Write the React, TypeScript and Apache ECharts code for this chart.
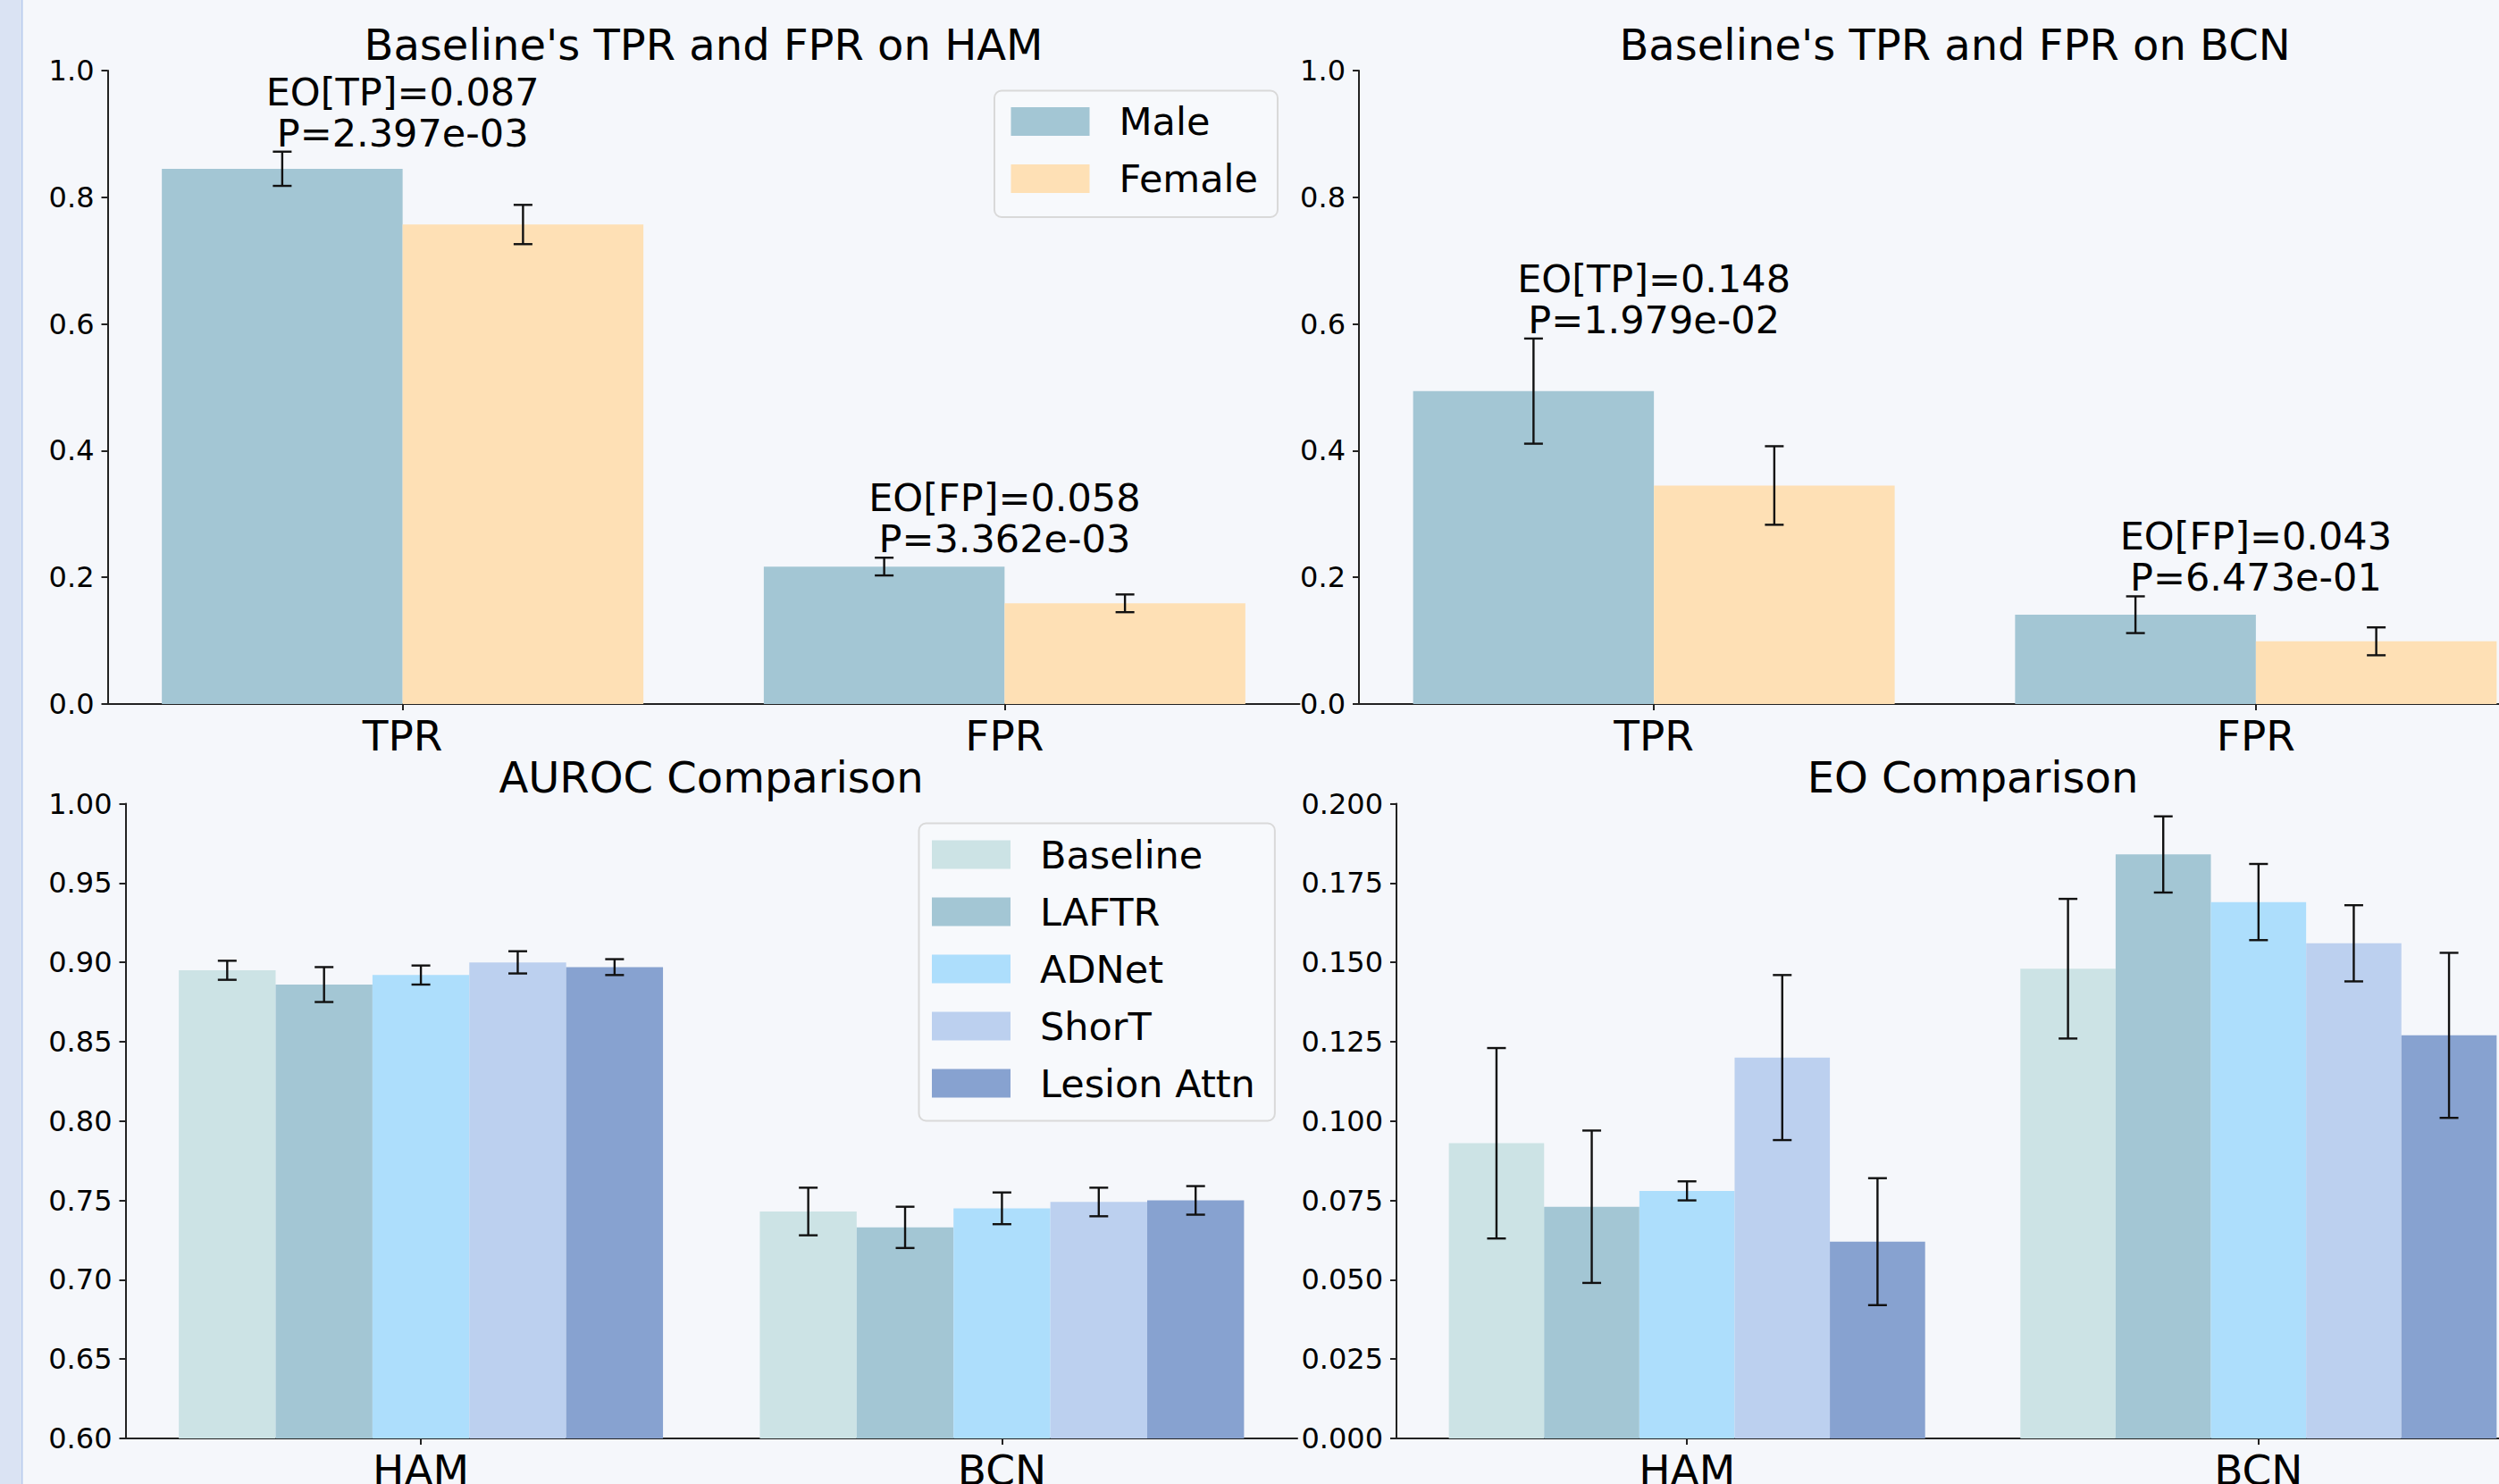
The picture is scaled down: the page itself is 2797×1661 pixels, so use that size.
import React, { useEffect, useRef } from 'react';
import * as echarts from 'echarts';

const W = 2797;
const H = 1661;
const FONT = 'DejaVu Sans';

// ---- Top row: baseline TPR / FPR by sex ----
const rateCategories = ['TPR', 'FPR'];
const genderGroups = ['Male', 'Female'];
const hamMale = [0.845, 0.217];
const hamMaleErr = [0.027, 0.014];
const hamFemale = [0.757, 0.159];
const hamFemaleErr = [0.031, 0.014];
const hamEOLabels = ['EO[TP]=0.087', 'EO[FP]=0.058'];
const hamPLabels = ['P=2.397e-03', 'P=3.362e-03'];
const bcnMale = [0.494, 0.141];
const bcnMaleErr = [0.083, 0.029];
const bcnFemale = [0.345, 0.099];
const bcnFemaleErr = [0.062, 0.022];
const bcnEOLabels = ['EO[TP]=0.148', 'EO[FP]=0.043'];
const bcnPLabels = ['P=1.979e-02', 'P=6.473e-01'];

// ---- Bottom row: method comparison ----
const datasetCategories = ['HAM', 'BCN'];
const methods = ['Baseline', 'LAFTR', 'ADNet', 'ShorT', 'Lesion Attn'];
const aurocHAM = [0.895, 0.886, 0.892, 0.9, 0.897];
const aurocHAMErr = [0.006, 0.011, 0.006, 0.007, 0.005];
const aurocBCN = [0.743, 0.733, 0.745, 0.749, 0.75];
const aurocBCNErr = [0.015, 0.013, 0.01, 0.009, 0.009];
const eoHAM = [0.093, 0.073, 0.078, 0.12, 0.062];
const eoHAMErr = [0.03, 0.024, 0.003, 0.026, 0.02];
const eoBCN = [0.148, 0.184, 0.169, 0.156, 0.127];
const eoBCNErr = [0.022, 0.012, 0.012, 0.012, 0.026];

const genderColors = ['#a3c6d4', '#fee0b5'];
const methodColors = ['#cce3e5', '#a3c6d4', '#addefc', '#bcd0ef', '#87a2d0'];

const ERR_COLOR = '#111111';
const AXIS_COLOR = '#222222';

function xLimits(n: number, w: number) {
  const half = (n * w) / 2;
  const range = 1 + 2 * half;
  return [-half - 0.05 * range, 1 + half + 0.05 * range];
}

function barSeries(
  name: string,
  color: string,
  g: number,
  n: number,
  w: number,
  values: number[],
  errs: number[],
  axisIndex: number,
  yBase: number
) {
  return {
    type: 'custom',
    name,
    xAxisIndex: axisIndex,
    yAxisIndex: axisIndex,
    itemStyle: { color },
    encode: { x: 0, y: 1 },
    data: values.map((v, i) => [i, v, errs[i]]),
    renderItem: (params: any, api: any) => {
      const ci = api.value(0);
      const v = api.value(1);
      const e = api.value(2);
      const x = ci + (g - (n - 1) / 2) * w;
      const p0 = api.coord([x - w / 2, v]);
      const p1 = api.coord([x + w / 2, yBase]);
      const top = api.coord([x, v + e]);
      const bot = api.coord([x, v - e]);
      const cap = 10.5;
      return {
        type: 'group',
        children: [
          {
            type: 'rect',
            shape: { x: p0[0], y: p0[1], width: p1[0] - p0[0], height: p1[1] - p0[1] },
            style: { fill: color },
          },
          {
            type: 'line',
            z2: 10,
            shape: { x1: top[0], y1: top[1], x2: bot[0], y2: bot[1] },
            style: { stroke: ERR_COLOR, lineWidth: 2.4 },
          },
          {
            type: 'line',
            z2: 10,
            shape: { x1: top[0] - cap, y1: top[1], x2: top[0] + cap, y2: top[1] },
            style: { stroke: ERR_COLOR, lineWidth: 2.4 },
          },
          {
            type: 'line',
            z2: 10,
            shape: { x1: bot[0] - cap, y1: bot[1], x2: bot[0] + cap, y2: bot[1] },
            style: { stroke: ERR_COLOR, lineWidth: 2.4 },
          },
        ],
      };
    },
  };
}

function annotationSeries(
  axisIndex: number,
  male: number[],
  maleErr: number[],
  female: number[],
  femaleErr: number[],
  eoLabels: string[],
  pLabels: string[]
) {
  return {
    type: 'custom',
    name: 'annotation' + axisIndex,
    xAxisIndex: axisIndex,
    yAxisIndex: axisIndex,
    encode: { x: 0, y: 1 },
    data: male.map((m, i) => [i, Math.max(m + maleErr[i], female[i] + femaleErr[i])]),
    renderItem: (params: any, api: any) => {
      const i = params.dataIndex;
      const pt = api.coord([api.value(0), api.value(1)]);
      const style = {
        fontSize: 43,
        fontFamily: FONT,
        fill: '#000',
        align: 'center',
        verticalAlign: 'middle',
      };
      return {
        type: 'group',
        children: [
          { type: 'text', x: pt[0], y: pt[1] - 67, style: { ...style, text: eoLabels[i] } },
          { type: 'text', x: pt[0], y: pt[1] - 21, style: { ...style, text: pLabels[i] } },
        ],
      };
    },
  };
}

const panels = [
  { grid: { left: 120.5, top: 79, width: 1334, height: 709 }, n: 2, w: 0.4, cats: rateCategories, yMin: 0, yMax: 1, interval: 0.2, dec: 1 },
  { grid: { left: 1521, top: 79, width: 1334, height: 709 }, n: 2, w: 0.4, cats: rateCategories, yMin: 0, yMax: 1, interval: 0.2, dec: 1 },
  { grid: { left: 140.5, top: 899.5, width: 1311.5, height: 710.5 }, n: 5, w: 1 / 6, cats: datasetCategories, yMin: 0.6, yMax: 1.0, interval: 0.05, dec: 2 },
  { grid: { left: 1563, top: 899.5, width: 1290, height: 710.5 }, n: 5, w: 1 / 6, cats: datasetCategories, yMin: 0, yMax: 0.2, interval: 0.025, dec: 3 },
];

function buildOption() {
  const grids = panels.map((p) => ({ ...p.grid, containLabel: false, outerBoundsMode: 'none' }));
  const xAxes = panels.map((p, idx) => {
    const [mn, mx] = xLimits(p.n, p.w);
    return {
      type: 'value',
      gridIndex: idx,
      min: mn,
      max: mx,
      splitLine: { show: false },
      axisLine: { show: true, onZero: false, lineStyle: { color: AXIS_COLOR, width: 2 } },
      axisTick: { show: true, customValues: [0, 1], length: 7, lineStyle: { color: AXIS_COLOR, width: 2 } },
      axisLabel: {
        show: true,
        customValues: [0, 1],
        margin: 12,
        fontSize: 47,
        fontFamily: FONT,
        color: '#000',
        formatter: (v: number) => p.cats[Math.round(v)] ?? '',
      },
    };
  });
  const yAxes = panels.map((p, idx) => ({
    type: 'value',
    gridIndex: idx,
    min: p.yMin,
    max: p.yMax,
    interval: p.interval,
    splitLine: { show: false },
    axisLine: { show: true, onZero: false, lineStyle: { color: AXIS_COLOR, width: 2 } },
    axisTick: { show: true, length: 7, lineStyle: { color: AXIS_COLOR, width: 2 } },
    axisLabel: {
      show: true,
      margin: 15,
      fontSize: 32,
      fontFamily: FONT,
      color: '#000',
      formatter: (v: number) => v.toFixed(p.dec),
    },
  }));

  const series: any[] = [];
  // top-left HAM
  series.push(barSeries(genderGroups[0], genderColors[0], 0, 2, 0.4, hamMale, hamMaleErr, 0, 0));
  series.push(barSeries(genderGroups[1], genderColors[1], 1, 2, 0.4, hamFemale, hamFemaleErr, 0, 0));
  series.push(annotationSeries(0, hamMale, hamMaleErr, hamFemale, hamFemaleErr, hamEOLabels, hamPLabels));
  // top-right BCN
  series.push(barSeries(genderGroups[0], genderColors[0], 0, 2, 0.4, bcnMale, bcnMaleErr, 1, 0));
  series.push(barSeries(genderGroups[1], genderColors[1], 1, 2, 0.4, bcnFemale, bcnFemaleErr, 1, 0));
  series.push(annotationSeries(1, bcnMale, bcnMaleErr, bcnFemale, bcnFemaleErr, bcnEOLabels, bcnPLabels));
  // bottom-left AUROC
  methods.forEach((m, g) => {
    series.push(
      barSeries(m, methodColors[g], g, 5, 1 / 6, [aurocHAM[g], aurocBCN[g]], [aurocHAMErr[g], aurocBCNErr[g]], 2, panels[2].yMin)
    );
  });
  // bottom-right EO
  methods.forEach((m, g) => {
    series.push(
      barSeries(m, methodColors[g], g, 5, 1 / 6, [eoHAM[g], eoBCN[g]], [eoHAMErr[g], eoBCNErr[g]], 3, panels[3].yMin)
    );
  });

  const titleStyle = { fontSize: 48, fontWeight: 'normal', fontFamily: FONT, color: '#000' };
  const titles = [
    { text: "Baseline's TPR and FPR on HAM", left: 787.5, top: 50 },
    { text: "Baseline's TPR and FPR on BCN", left: 2188, top: 50 },
    { text: 'AUROC Comparison', left: 796, top: 870 },
    { text: 'EO Comparison', left: 2208, top: 870 },
  ].map((t) => ({ ...t, textAlign: 'center', textVerticalAlign: 'middle', padding: 0, textStyle: titleStyle }));

  const legendCommon = {
    orient: 'vertical',
    icon: 'rect',
    itemWidth: 88,
    itemHeight: 32,
    itemGap: 21,
    borderColor: '#d9d9d9',
    borderWidth: 2,
    borderRadius: 8,
    backgroundColor: '#f7f9fc',
    selectedMode: false,
    textStyle: { fontSize: 43, fontFamily: FONT, color: '#000', padding: [0, 0, 0, 28] },
  };

  return {
    animation: false,
    backgroundColor: '#f5f7fb',
    textStyle: { fontFamily: FONT },
    title: titles,
    legend: [
      { ...legendCommon, data: genderGroups, left: 1113, top: 101.5, padding: [13, 22, 21.5, 18.5] },
      { ...legendCommon, data: methods, left: 1028.5, top: 921.5, padding: [13.5, 22, 20.5, 14.5] },
    ],
    grid: grids,
    xAxis: xAxes,
    yAxis: yAxes,
    series,
    graphic: [
      { type: 'rect', left: 0, top: 0, shape: { x: 0, y: 0, width: 24, height: H }, style: { fill: '#dae3f3' }, z: -1 },
      { type: 'rect', left: 24, top: 0, shape: { x: 0, y: 0, width: 1.5, height: H }, style: { fill: '#b8cbee' }, z: -1 },
    ],
  };
}

export default function App() {
  const ref = useRef<HTMLDivElement>(null);
  useEffect(() => {
    if (!ref.current) return;
    const chart = echarts.init(ref.current, null, { renderer: 'svg' });
    chart.setOption(buildOption() as any);
    return () => chart.dispose();
  }, []);
  return (
    <div
      ref={ref}
      style={{ position: 'absolute', left: 0, top: 0, width: W, height: H }}
    />
  );
}
